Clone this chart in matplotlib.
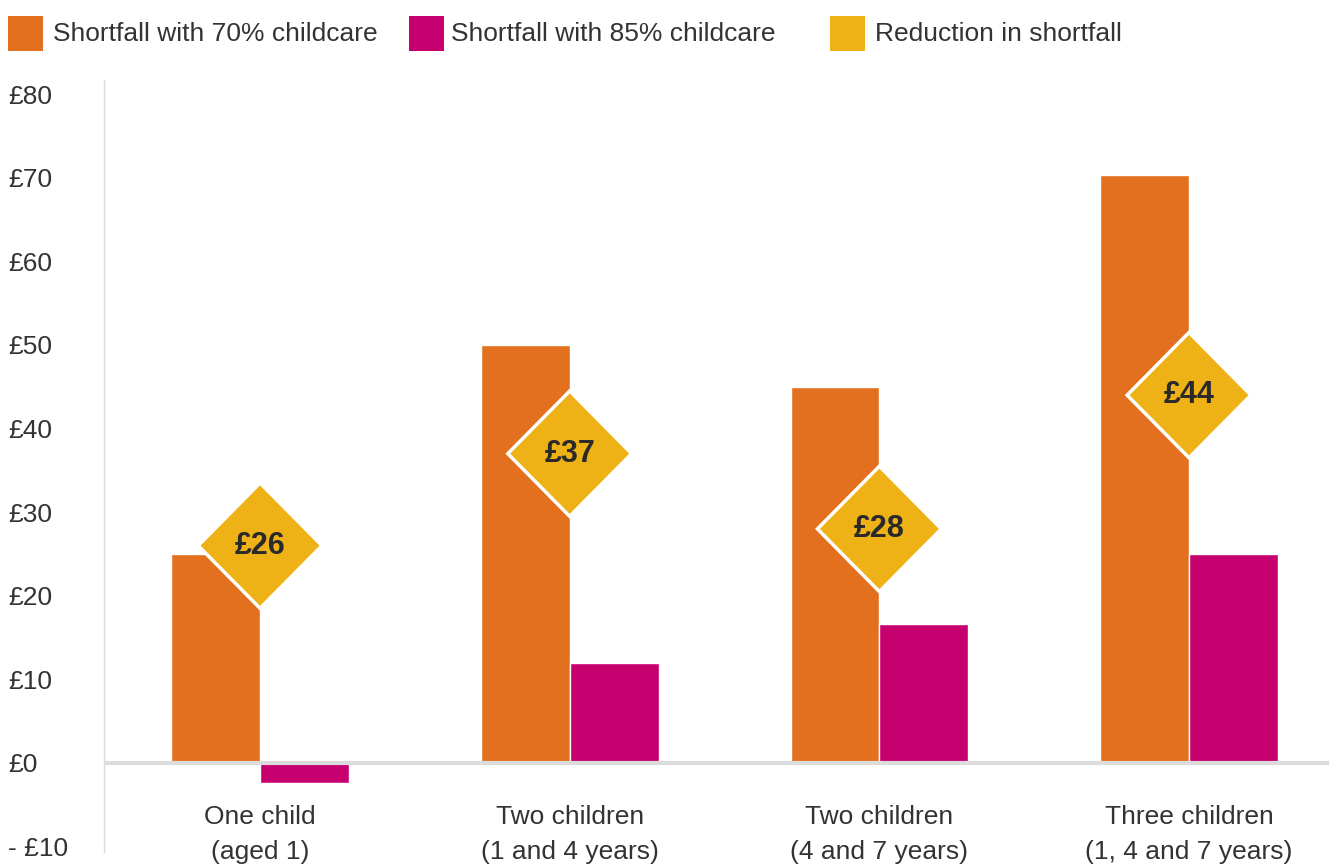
import numpy as np
import matplotlib
matplotlib.use("Agg")
import matplotlib.pyplot as plt
from matplotlib.patches import Polygon, Rectangle

# childcare shortfall per week, by family type
groups = ["One child\n(aged 1)", "Two children\n(1 and 4 years)",
          "Two children\n(4 and 7 years)", "Three children\n(1, 4 and 7 years)"]
shortfall_70 = [25, 50, 45, 70.3]
shortfall_85 = [-2.4, 12, 16.6, 25]
reduction = [26, 37, 28, 44]

yticks = [-10, 0, 10, 20, 30, 40, 50, 60, 70, 80]
ytick_labels = ["- £10", "£0", "£10", "£20", "£30", "£40", "£50", "£60", "£70", "£80"]

legend_names = ["Shortfall with 70% childcare", "Shortfall with 85% childcare",
                "Reduction in shortfall"]

ORANGE = "#E3701E"
MAGENTA = "#C6006F"
GOLD = "#EFB216"
TEXT = "#333333"
GRID = "#DCDCDC"
FS = 19

W, H = 1329, 865
plt.rcParams["font.family"] = ["Liberation Sans", "DejaVu Sans"]

fig = plt.figure(figsize=(W / 100, H / 100), dpi=100)

def fx(px):
    return px / W

def fy(py):
    return 1 - py / H

# axes box: left spine at 104px, plot runs 80px..852px from top
ax = fig.add_axes([fx(104), fy(852), fx(1329) - fx(104), fy(80) - fy(852)])
ax.set_xlim(-0.504, 3.452)
ax.set_ylim(-10.65, 81.7)

x = np.arange(len(groups))
bw = 0.287
ax.bar(x - bw / 2, shortfall_70, width=bw, color=ORANGE, edgecolor="white", linewidth=1, zorder=2)
ax.bar(x + bw / 2, shortfall_85, width=bw, color=MAGENTA, edgecolor="white", linewidth=1, zorder=2)
ax.axhline(0, color=GRID, lw=3, zorder=3)

# diamonds showing the reduction, centred between each pair of bars
hw, hh = 0.2, 7.5
for xi, r in zip(x, reduction):
    pts = [(xi - hw, r), (xi, r + hh), (xi + hw, r), (xi, r - hh)]
    ax.add_patch(Polygon(pts, closed=True, facecolor=GOLD, edgecolor="white",
                         linewidth=2.5, zorder=4))
    ax.text(xi, r, f"£{r}", ha="center", va="center", fontsize=22,
            fontweight="bold", color="#2a2a2a", zorder=5)

# category labels
for xi, g in zip(x, groups):
    l1, l2 = g.split("\n")
    ax.text(xi, -6.45, l1, ha="center", va="center", fontsize=FS, color=TEXT, clip_on=False)
    ax.text(xi, -10.6, l2, ha="center", va="center", fontsize=FS, color=TEXT, clip_on=False)

ax.set_xticks([])
ax.set_yticks(yticks)
ax.set_yticklabels(ytick_labels)
ax.tick_params(axis="y", length=0, pad=96 * 0.72, labelsize=FS, labelcolor=TEXT)
for lab in ax.get_yticklabels():
    lab.set_horizontalalignment("left")

for s in ["top", "right", "bottom"]:
    ax.spines[s].set_visible(False)
ax.spines["left"].set_color(GRID)
ax.spines["left"].set_linewidth(1)

# legend across the top
legend_cols = [ORANGE, MAGENTA, GOLD]
box_x = [8, 409, 830]
text_x = [53, 451, 875]
for name, c, bx, tx in zip(legend_names, legend_cols, box_x, text_x):
    fig.add_artist(Rectangle((fx(bx), fy(51)), fx(35), 35 / H, transform=fig.transFigure,
                             facecolor=c, edgecolor="none"))
    fig.text(fx(tx), fy(34), name, ha="left", va="center", fontsize=FS, color=TEXT)

fig.savefig("out.png", dpi=100)
